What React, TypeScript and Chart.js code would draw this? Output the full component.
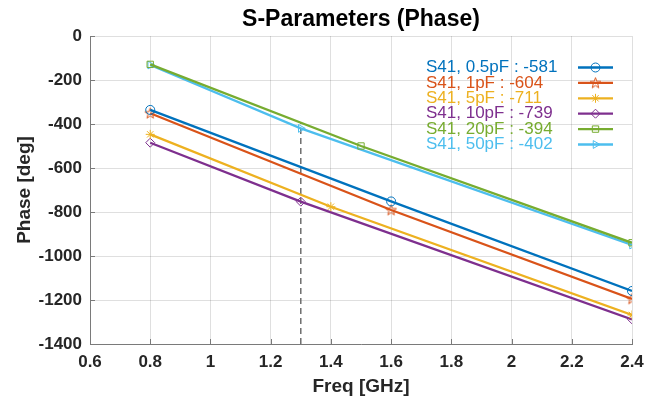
import React, { useEffect, useRef } from 'react';
import { Chart, registerables } from 'chart.js';
import { drawPoint } from 'chart.js/helpers';

Chart.register(...registerables);

// ---- data ----
const seriesLabels = [
  'S41, 0.5pF : -581',
  'S41, 1pF : -604',
  'S41, 5pF : -711',
  'S41, 10pF : -739',
  'S41, 20pF : -394',
  'S41, 50pF : -402',
];
const seriesColors = ['#0072BD', '#D95319', '#EDB120', '#7E2F8E', '#77AC30', '#4DBEEE'];

const freq05 = [0.8, 1.6, 2.4];
const phase05 = [-336, -752, -1159];
const freq1 = [0.8, 1.6, 2.4];
const phase1 = [-351, -791, -1195];
const freq5 = [0.8, 1.4, 2.4];
const phase5 = [-447, -776, -1268];
const freq10 = [0.8, 1.3, 2.4];
const phase10 = [-485, -753, -1288];
const freq20 = [0.8, 1.5, 2.4];
const phase20 = [-129, -500, -940];
const freq50 = [0.8, 1.3, 2.4];
const phase50 = [-132, -420, -950];

const cursorFreq = [1.3, 1.3];
const cursorPhase = [-1400, -394];

const xTickMin = 0.6;
const xTickMax = 2.4;
const xTickStep = 0.2;
const yTickMin = -1400;
const yTickMax = 0;
const yTickStep = 200;

const FONT = '"Liberation Sans", Arial, Helvetica, sans-serif';

function makePentagram(color: string): HTMLCanvasElement {
  const c = document.createElement('canvas');
  c.width = 13;
  c.height = 13;
  const g = c.getContext('2d')!;
  const cx = 6.5, cy = 6.8, ro = 5.6, ri = 2.3;
  g.beginPath();
  for (let k = 0; k < 10; k++) {
    const r = k % 2 === 0 ? ro : ri;
    const a = -Math.PI / 2 + (k * Math.PI) / 5;
    const px = cx + r * Math.cos(a);
    const py = cy + r * Math.sin(a);
    if (k === 0) g.moveTo(px, py);
    else g.lineTo(px, py);
  }
  g.closePath();
  g.strokeStyle = color;
  g.lineWidth = 1;
  g.stroke();
  return c;
}

export default function App() {
  const ref = useRef<HTMLCanvasElement | null>(null);

  useEffect(() => {
    if (!ref.current) return;
    const pent = makePentagram(seriesColors[1]);
    const styles: any[] = ['circle', pent, 'star', 'rectRot', 'rect', 'triangle'];
    const rotations = [0, 0, 0, 0, 0, 90];
    const xs = [freq05, freq1, freq5, freq10, freq20, freq50];
    const ys = [phase05, phase1, phase5, phase10, phase20, phase50];

    const datasets: any[] = xs.map((fx, i) => ({
      label: seriesLabels[i],
      data: fx.map((f, j) => ({ x: f, y: ys[i][j] })),
      borderColor: seriesColors[i],
      backgroundColor: 'rgba(0,0,0,0)',
      pointBackgroundColor: 'rgba(0,0,0,0)',
      pointBorderColor: seriesColors[i],
      borderWidth: 2.3,
      pointRadius: 4.5,
      pointBorderWidth: 1,
      pointStyle: styles[i],
      pointRotation: rotations[i],
      tension: 0,
    }));
    datasets.push({
      label: 'cursor',
      data: cursorFreq.map((f, j) => ({ x: f, y: cursorPhase[j] })),
      borderColor: '#6e6e6e',
      borderWidth: 1.5,
      borderDash: [6, 4],
      pointRadius: 0,
    });

    const legendPlugin = {
      id: 'matlabLegend',
      afterDatasetsDraw(chart: any) {
        const ctx = chart.ctx;
        ctx.save();
        ctx.font = `17px ${FONT}`;
        ctx.textBaseline = 'middle';
        ctx.textAlign = 'left';
        seriesLabels.forEach((label, i) => {
          const y = 67.5 + i * 15.4;
          ctx.fillStyle = seriesColors[i];
          ctx.fillText(label, 426, y);
          ctx.strokeStyle = seriesColors[i];
          ctx.lineWidth = 2.3;
          ctx.beginPath();
          ctx.moveTo(578, y);
          ctx.lineTo(613, y);
          ctx.stroke();
          ctx.lineWidth = 1;
          ctx.fillStyle = 'rgba(0,0,0,0)';
          drawPoint(ctx, { pointStyle: styles[i], rotation: rotations[i], radius: 4.5, borderWidth: 1 } as any, 595.5, y);
        });
        ctx.restore();
      },
    };

    const tickPlugin = {
      id: 'inwardTicks',
      afterDraw(chart: any) {
        const ctx = chart.ctx;
        const { left, bottom } = chart.chartArea;
        const xs = chart.scales.x;
        const ysc = chart.scales.y;
        ctx.save();
        ctx.strokeStyle = '#7a7a7a';
        ctx.lineWidth = 1;
        ctx.beginPath();
        xs.ticks.forEach((t: any) => {
          const px = Math.round(xs.getPixelForValue(t.value)) + 0.5;
          ctx.moveTo(px, bottom);
          ctx.lineTo(px, bottom - 5);
        });
        ysc.ticks.forEach((t: any) => {
          const py = Math.round(ysc.getPixelForValue(t.value)) + 0.5;
          ctx.moveTo(left, py);
          ctx.lineTo(left + 5, py);
        });
        ctx.stroke();
        ctx.restore();
      },
    };

    const chart = new Chart(ref.current, {
      type: 'line',
      data: { datasets },
      plugins: [legendPlugin, tickPlugin],
      options: {
        animation: false,
        responsive: false,
        layout: { padding: { top: 0, left: 0, right: 27, bottom: 0 } },
        plugins: {
          legend: { display: false },
          tooltip: { enabled: false },
          title: {
            display: true,
            text: 'S-Parameters (Phase)',
            fullSize: false,
            color: '#000',
            font: { family: FONT, size: 23, weight: 'bold' },
            padding: { top: 6, bottom: 2.4 },
          },
        },
        scales: {
          x: {
            type: 'linear',
            min: xTickMin,
            max: xTickMax,
            afterFit: (s: any) => { s.height = 56; },
            ticks: {
              stepSize: xTickStep,
              color: '#262626',
              font: { family: FONT, size: 17, weight: 'bold' },
              padding: 8,
              maxRotation: 0,
              autoSkip: false,
              callback: (v: any) => String(Number(Number(v).toFixed(1))),
            },
            grid: { color: 'rgba(38,38,38,0.15)', drawTicks: false },
            border: { color: '#7a7a7a', width: 1 },
            title: {
              display: true,
              text: 'Freq [GHz]',
              color: '#262626',
              font: { family: FONT, size: 19, weight: 'bold' },
              padding: { top: 0, bottom: 2 },
            },
          },
          y: {
            type: 'linear',
            min: yTickMin,
            max: yTickMax,
            afterFit: (s: any) => { s.width = 90; },
            ticks: {
              stepSize: yTickStep,
              color: '#262626',
              font: { family: FONT, size: 17, weight: 'bold' },
              padding: 8,
              autoSkip: false,
              callback: (v: any) => String(Math.round(Number(v))),
            },
            grid: { color: 'rgba(38,38,38,0.15)', drawTicks: false },
            border: { color: '#7a7a7a', width: 1 },
            title: {
              display: true,
              text: 'Phase [deg]',
              color: '#262626',
              font: { family: FONT, size: 19, weight: 'bold' },
              padding: { top: 13, bottom: 0 },
            },
          },
        },
      } as any,
    });
    return () => chart.destroy();
  }, []);

  return (
    <div style={{ position: 'fixed', left: 0, top: 0, width: 659, height: 400, background: '#fff' }}>
      <canvas ref={ref} width={659} height={400} style={{ display: 'block' }} />
    </div>
  );
}
